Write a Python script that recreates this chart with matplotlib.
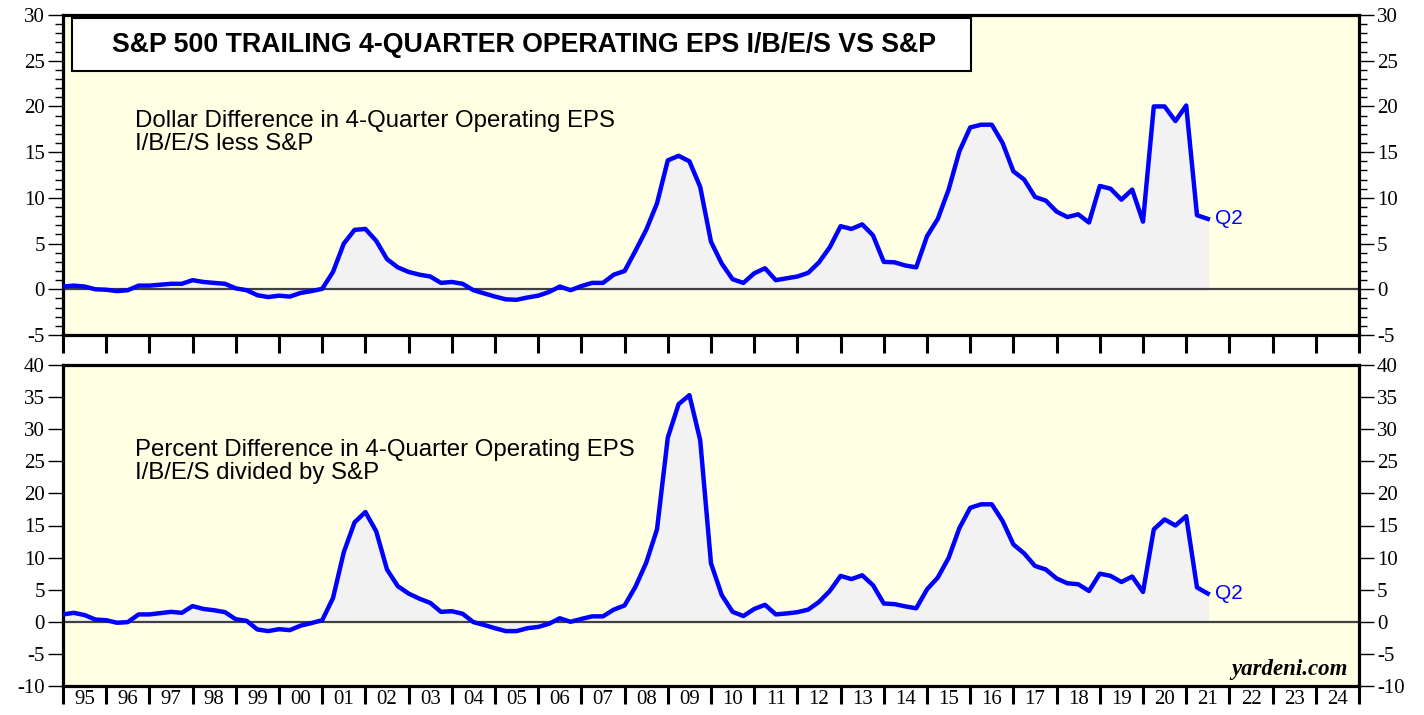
import numpy as np
import matplotlib
matplotlib.use('Agg')
import matplotlib.pyplot as plt
from matplotlib.ticker import MultipleLocator, FixedLocator, NullFormatter
from matplotlib.patches import Rectangle

# quarterly data, starting at 1995.0
start_year = 1995
dollar_diff = [0.3, 0.4, 0.3, 0.0, -0.05, -0.2, -0.1, 0.4, 0.4, 0.5, 0.6, 0.6,
               1.0, 0.8, 0.7, 0.6, 0.1, -0.1, -0.65, -0.85, -0.7, -0.8, -0.4, -0.2,
               0.05, 1.9, 5.0, 6.5, 6.6, 5.3, 3.3, 2.4, 1.9, 1.6, 1.4, 0.7,
               0.8, 0.6, -0.1, -0.45, -0.8, -1.1, -1.15, -0.9, -0.7, -0.3, 0.3, -0.1,
               0.35, 0.7, 0.7, 1.6, 2.0, 4.2, 6.5, 9.4, 14.1, 14.6, 14.0, 11.2,
               5.2, 2.8, 1.1, 0.7, 1.75, 2.3, 1.0, 1.2, 1.4, 1.8, 2.95, 4.6,
               6.9, 6.6, 7.1, 5.9, 3.0, 2.95, 2.6, 2.4, 5.8, 7.7, 10.9, 15.1,
               17.7, 18.0, 18.0, 16.0, 12.9, 12.0, 10.1, 9.7, 8.5, 7.9, 8.2, 7.3,
               11.3, 11.0, 9.8, 10.9, 7.4, 20.0, 20.0, 18.4, 20.1, 8.1, 7.7]
pct_diff = [1.15, 1.4, 1.05, 0.35, 0.25, -0.15, -0.05, 1.15, 1.15, 1.35, 1.55, 1.4,
            2.45, 2.0, 1.8, 1.5, 0.4, 0.15, -1.2, -1.45, -1.15, -1.3, -0.6, -0.2,
            0.25, 3.7, 10.85, 15.5, 17.1, 14.1, 8.15, 5.55, 4.4, 3.6, 2.95, 1.55,
            1.65, 1.25, -0.05, -0.5, -1.0, -1.45, -1.45, -1.0, -0.8, -0.3, 0.55, 0.0,
            0.45, 0.85, 0.85, 1.9, 2.55, 5.45, 9.2, 14.4, 28.7, 33.9, 35.3, 28.3,
            9.1, 4.15, 1.55, 0.9, 2.0, 2.65, 1.15, 1.3, 1.5, 1.9, 3.1, 4.8,
            7.15, 6.65, 7.25, 5.7, 2.85, 2.75, 2.4, 2.1, 5.05, 6.9, 9.95, 14.6,
            17.75, 18.3, 18.3, 15.7, 12.05, 10.65, 8.7, 8.15, 6.75, 6.0, 5.85, 4.8,
            7.5, 7.15, 6.2, 7.05, 4.65, 14.4, 15.95, 15.0, 16.45, 5.35, 4.4]
year_labels = ['95', '96', '97', '98', '99', '00', '01', '02', '03', '04',
               '05', '06', '07', '08', '09', '10', '11', '12', '13', '14',
               '15', '16', '17', '18', '19', '20', '21', '22', '23', '24']

quarters = start_year + np.arange(len(dollar_diff)) / 4.0

plt.rcParams['font.family'] = 'Liberation Serif'
plt.rcParams['axes.unicode_minus'] = False
sans = 'Liberation Sans'

fig = plt.figure(figsize=(14.24, 7.15), dpi=100)
ax1 = fig.add_axes([63/1424, 1-335/715, 1296/1424, 320/715])
ax2 = fig.add_axes([63/1424, 1-686/715, 1296/1424, 321/715])


def style_axes(ax, ylim, minor):
    ax.set_facecolor('#ffffe3')
    ax.set_xlim(1995, 2025)
    ax.set_ylim(*ylim)
    for s in ax.spines.values():
        s.set_linewidth(2.3)
    ax.yaxis.set_major_locator(MultipleLocator(5))
    if minor:
        ax.yaxis.set_minor_locator(MultipleLocator(minor))
    ax.tick_params(axis='y', which='major', left=True, right=True,
                   labelleft=True, labelright=True, length=11, width=1.0,
                   labelsize=15, pad=2)
    ax.tick_params(axis='y', which='minor', left=True, right=True,
                   length=6, width=1.0)
    ax.xaxis.set_major_locator(MultipleLocator(1))
    ax.xaxis.set_major_formatter(NullFormatter())
    ax.tick_params(axis='x', which='major', length=13, width=2.2)
    ax.axhline(0, color='#404040', lw=1.6, zorder=2)


def draw_series(ax, vals):
    ax.fill_between(quarters, vals, 0, color='#f2f2f2', zorder=1)
    ax.plot(quarters, vals, color='#0000ff', lw=3.2, zorder=3)
    ax.annotate('Q2', (quarters[-1], vals[-1]), xytext=(5, 0),
                textcoords='offset points', va='center', ha='left',
                color='#0000ff', fontsize=15, family=sans)


style_axes(ax1, (-5, 30), 1)
style_axes(ax2, (-10, 40), None)
draw_series(ax1, dollar_diff)
draw_series(ax2, pct_diff)

# year labels between ticks on the bottom panel
ax2.xaxis.set_minor_locator(FixedLocator(np.arange(len(year_labels)) + start_year + 0.5))
ax2.xaxis.set_minor_formatter(plt.FixedFormatter(year_labels))
ax2.tick_params(axis='x', which='minor', length=0, labelsize=15, pad=3)

# title box
ax1.add_patch(Rectangle((0.007, 0.825), 0.694, 0.165, transform=ax1.transAxes,
                        facecolor='white', edgecolor='black', lw=1.5, zorder=4))
ax1.text(0.356, 0.905, 'S&P 500 TRAILING 4-QUARTER OPERATING EPS I/B/E/S VS S&P',
         transform=ax1.transAxes, ha='center', va='center', fontsize=19.3,
         fontweight='bold', family=sans, zorder=5)

ax1.text(0.0556, 0.703, 'Dollar Difference in 4-Quarter Operating EPS\nI/B/E/S less S&P',
         transform=ax1.transAxes, ha='left', va='top', fontsize=17.3,
         family=sans, linespacing=1.05)
ax2.text(0.0556, 0.768, 'Percent Difference in 4-Quarter Operating EPS\nI/B/E/S divided by S&P',
         transform=ax2.transAxes, ha='left', va='top', fontsize=17.3,
         family=sans, linespacing=1.05)

ax2.text(0.9915, 0.05, 'yardeni.com', transform=ax2.transAxes, ha='right',
         va='center', fontsize=16.5, fontweight='bold', style='italic')

fig.savefig('out.png', dpi=100)
